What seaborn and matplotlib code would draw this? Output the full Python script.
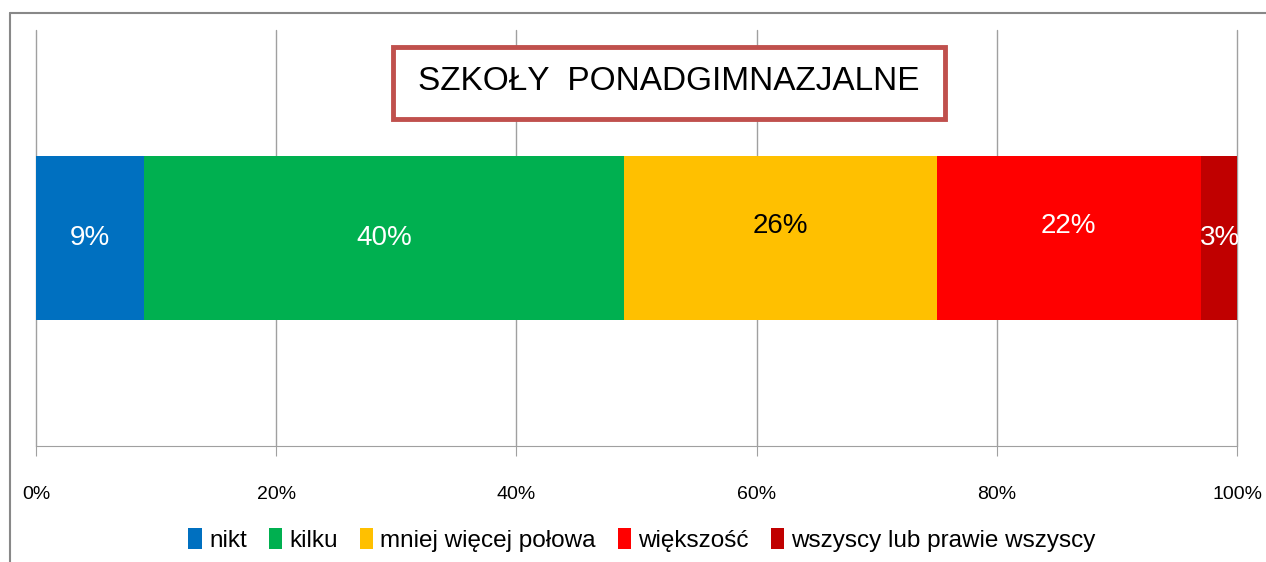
import matplotlib
matplotlib.use("Agg")
import matplotlib.pyplot as plt
import seaborn as sns
import pandas as pd
from matplotlib.patches import Rectangle, Patch
from matplotlib.lines import Line2D

# data
categories = ["nikt", "kilku", "mniej więcej połowa", "większość", "wszyscy lub prawie wszyscy"]
values = [9, 40, 26, 22, 3]
colors = ["#0070C0", "#00B050", "#FFC000", "#FF0000", "#C00000"]
label_colors = ["white", "white", "black", "white", "white"]
title = "SZKOŁY  PONADGIMNAZJALNE"
ticks = [0, 20, 40, 60, 80, 100]
tick_labels = ["0%", "20%", "40%", "60%", "80%", "100%"]

sns.set_style("white")
plt.rcParams['font.family'] = ['Liberation Sans', 'DejaVu Sans']
plt.rcParams['text.color'] = 'black'
plt.rcParams['xtick.color'] = 'black'

fig = plt.figure(figsize=(12.66, 5.62), dpi=100)
ax = fig.add_axes([36/1266, 1 - 446/562, (1237 - 36)/1266, (446 - 30)/562])

# stacked bar: draw cumulative totals, largest first
cum = []
s = 0
for v in values:
    s += v
    cum.append(s)
for i in range(len(values) - 1, -1, -1):
    df = pd.DataFrame({"row": ["szkoly"], "val": [cum[i]]})
    sns.barplot(data=df, x="val", y="row", color=colors[i], width=0.8,
                saturation=1, ax=ax, orient="h", linewidth=0)

# segment labels
left = 0
for i, v in enumerate(values):
    yoff = -0.06 if i in (2, 3) else 0
    xc = left + v / 2
    if i == len(values) - 1:
        xc = left + v / 2 + 0.1
    ax.text(xc, yoff, f"{v}%", ha="center", va="center", fontsize=20,
            color=label_colors[i], clip_on=False)
    left += v

ax.set_xlim(0, 100)
ax.set_ylim(1.01, -1.01)
ax.set_xticks(ticks)
ax.set_xticklabels(tick_labels, fontsize=14)
ax.set_yticks([])
ax.set_xlabel("")
ax.set_ylabel("")
ax.grid(axis="x", color="#A0A0A0", linewidth=1)
for gl in ax.get_xgridlines():
    gl.set_clip_on(False)
ax.set_axisbelow(True)
for sp in ["top", "right", "left"]:
    ax.spines[sp].set_visible(False)
ax.spines["bottom"].set_color("#A0A0A0")
ax.tick_params(axis="x", bottom=True, length=7, color="#A0A0A0", pad=22)

# title box
fig.patches.append(Rectangle((393/1266, 1 - 119/562), (945 - 393)/1266, (119 - 47)/562,
                             transform=fig.transFigure, facecolor="white",
                             edgecolor="#C0504D", linewidth=3.5, zorder=5))
fig.text((393 + 945)/2/1266, 1 - 82/562, title, ha="center", va="center",
         fontsize=24, zorder=6)

# outer frame
fig.add_artist(Line2D([10/1266, 1], [1 - 13/562, 1 - 13/562], transform=fig.transFigure,
                      color="#888888", linewidth=1.5))
fig.add_artist(Line2D([10/1266, 10/1266], [0, 1 - 13/562], transform=fig.transFigure,
                      color="#888888", linewidth=1.5))

# legend
handles = [Patch(facecolor=c, edgecolor="none") for c in colors]
fig.legend(handles, categories, loc="center", bbox_to_anchor=(642/1266, 1 - 540/562),
           ncol=5, frameon=False, fontsize=17.5, handlelength=0.55, handleheight=0.95,
           handletextpad=0.3, columnspacing=0.9)

fig.savefig("out.png", dpi=100)
